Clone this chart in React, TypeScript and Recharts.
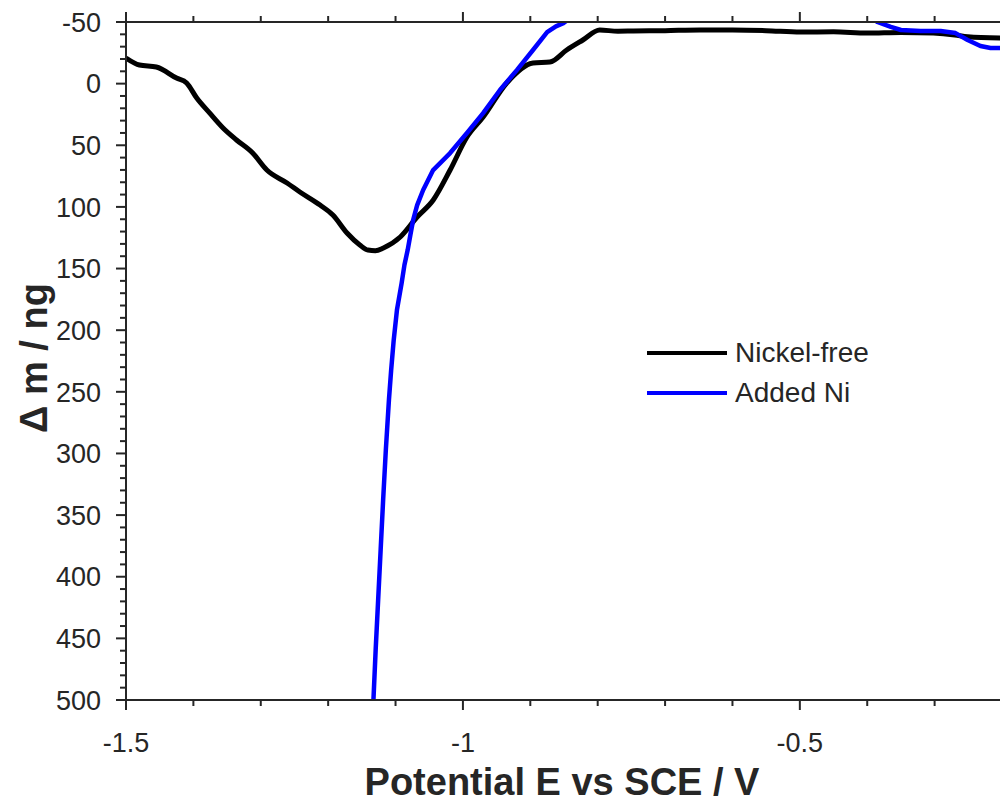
import { LineChart, Line, XAxis, YAxis, Legend } from 'recharts';

// Nickel-free trace: potential (V vs SCE) and mass change (ng)
const NICKEL_FREE_E = [
  -1.5, -1.48, -1.455, -1.425, -1.41, -1.395, -1.376, -1.356, -1.336, -1.312, -1.291, -1.261,
  -1.242, -1.212, -1.193, -1.172, -1.153, -1.141, -1.13, -1.118, -1.093, -1.068, -1.044, -1.019,
  -0.994, -0.97, -0.935, -0.896, -0.871, -0.846, -0.822, -0.797, -0.77, -0.747, -0.7, -0.648,
  -0.6, -0.55, -0.499, -0.45, -0.4, -0.35, -0.302, -0.27, -0.251, -0.202,
];
const NICKEL_FREE_DM = [
  -20.8, -15.1, -13.5, -4.5, -0.5, 11.7, 23.8, 36, 45.7, 56.3, 70.1, 80.6,
  87.9, 98.5, 106.6, 121.2, 130.9, 135, 135.5, 133.3, 124.4, 108.2, 94.4, 70.1,
  43.3, 27.1, -0.5, -16.7, -17.5, -27.3, -35.4, -43.5, -42.5, -42.7, -43, -43.5,
  -43.5, -43, -41.8, -42, -41, -41.5, -41, -39.5, -38, -37,
];

// Added Ni trace (leaves the frame at the top between about -0.85 V and -0.39 V)
const ADDED_NI_E = [
  -1.1328, -1.1295, -1.1258, -1.1221, -1.1184, -1.1144, -1.1098, -1.1065, -1.1027, -1.0979,
  -1.0909, -1.0868, -1.082, -1.078, -1.0739, -1.0679, -1.059, -1.0516, -1.0442,
  -1.019, -0.994, -0.97, -0.945, -0.92, -0.896, -0.875, -0.862, -0.851, -0.845,
  -0.6,
  -0.392, -0.385, -0.365, -0.35, -0.321, -0.291, -0.269, -0.251, -0.232, -0.217, -0.202,
];
const ADDED_NI_DM: (number | null)[] = [
  500, 459.4, 418.8, 378.3, 337.7, 297.2, 256.6, 232.3, 207.9, 183.6,
  161.7, 147.1, 135, 122.8, 110.6, 98.5, 86.3, 78.2, 70.1,
  56.3, 40.1, 23.9, 5.2, -11, -27.3, -41.8, -46.5, -49.1, -51.5,
  null,
  -53, -50, -46, -43.5, -42.7, -42.7, -41, -35.4, -30.5, -28.9, -28.9,
];

const X_TICKS = [-1.5, -1.4, -1.3, -1.2, -1.1, -1, -0.9, -0.8, -0.7, -0.6, -0.5, -0.4, -0.3, -0.2];
const X_MAJOR = [-1.5, -1, -0.5];
const Y_MAJOR = [-50, 0, 50, 100, 150, 200, 250, 300, 350, 400, 450, 500];
const Y_TICKS = Array.from({ length: 56 }, (_, i) => -50 + i * 10);

const SERIES = [
  { name: 'Nickel-free', color: '#000000' },
  { name: 'Added Ni', color: '#0000ff' },
];

const nickelFree = NICKEL_FREE_E.map((e, i) => ({ e, dm: NICKEL_FREE_DM[i] }));
const addedNi = ADDED_NI_E.map((e, i) => ({ e, dm: ADDED_NI_DM[i] }));

const AXIS = '#262626';
const FONT = '"Liberation Sans", Arial, Helvetica, sans-serif';

const isMajor = (list: number[], v: number) => list.some((m) => Math.abs(m - v) < 1e-6);

function BottomTick({ x, y, payload }: any) {
  const major = isMajor(X_MAJOR, payload.value);
  return (
    <g>
      <line x1={x} x2={x} y1={y} y2={y + (major ? 10 : 6)} stroke={AXIS} strokeWidth={2} />
      {major && (
        <text x={x} y={y + 52} textAnchor="middle" fontSize={27} fontFamily={FONT} fill={AXIS}>
          {String(payload.value)}
        </text>
      )}
    </g>
  );
}

function TopTick({ x, y, payload }: any) {
  const major = isMajor(X_MAJOR, payload.value);
  return <line x1={x} x2={x} y1={y} y2={y - (major ? 10 : 6)} stroke={AXIS} strokeWidth={2} />;
}

function LeftTick({ x, y, payload }: any) {
  const major = isMajor(Y_MAJOR, payload.value);
  return (
    <g>
      <line x1={x} x2={x - (major ? 10 : 6)} y1={y} y2={y} stroke={AXIS} strokeWidth={2} />
      {major && (
        <text x={x - 25} y={y} dy="0.36em" textAnchor="end" fontSize={27} fontFamily={FONT} fill={AXIS}>
          {String(payload.value)}
        </text>
      )}
    </g>
  );
}

function LegendBox() {
  return (
    <div style={{ fontFamily: FONT, fontSize: 28, color: AXIS }}>
      {SERIES.map((s) => (
        <div key={s.name} style={{ display: 'flex', alignItems: 'center', height: 40 }}>
          <div style={{ width: 80, height: 4, background: s.color, marginRight: 8 }} />
          <span>{s.name}</span>
        </div>
      ))}
    </div>
  );
}

export default function App() {
  return (
    <div style={{ position: 'absolute', left: 0, top: 0, width: 1000, height: 802, overflow: 'hidden', background: '#fff' }}>
      <LineChart width={1010} height={802} margin={{ top: 10, right: 8, bottom: 0, left: 0 }}>
        <XAxis
          xAxisId="bottom"
          dataKey="e"
          type="number"
          domain={[-1.5, -0.2]}
          ticks={X_TICKS}
          interval={0}
          height={102}
          allowDataOverflow
          axisLine={{ stroke: AXIS, strokeWidth: 2 }}
          tickLine={false}
          tickSize={0}
          tickMargin={0}
          tick={<BottomTick />}
          label={() => (
            <text x={562} y={795} textAnchor="middle" fontSize={38} fontWeight="bold" fontFamily={FONT} fill={AXIS}>
              Potential E vs SCE / V
            </text>
          )}
        />
        <XAxis
          xAxisId="top"
          orientation="top"
          dataKey="e"
          type="number"
          domain={[-1.5, -0.2]}
          ticks={X_TICKS}
          interval={0}
          height={12}
          allowDataOverflow
          axisLine={{ stroke: AXIS, strokeWidth: 2 }}
          tickLine={false}
          tickSize={0}
          tickMargin={0}
          tick={<TopTick />}
        />
        <YAxis
          dataKey="dm"
          type="number"
          reversed
          domain={[-50, 500]}
          ticks={Y_TICKS}
          interval={0}
          width={126}
          allowDataOverflow
          axisLine={{ stroke: AXIS, strokeWidth: 2 }}
          tickLine={false}
          tickSize={0}
          tickMargin={0}
          tick={<LeftTick />}
          label={() => (
            <text
              x={47}
              y={358}
              transform="rotate(-90 47 358)"
              textAnchor="middle"
              fontSize={38}
              fontWeight="bold"
              fontFamily={FONT}
              fill={AXIS}
            >
              Δ m / ng
            </text>
          )}
        />
        <Legend
          layout="vertical"
          align="center"
          verticalAlign="middle"
          content={() => <LegendBox />}
          wrapperStyle={{ left: 647, top: 333, width: 260 }}
        />
        <Line
          xAxisId="bottom"
          data={nickelFree}
          dataKey="dm"
          name={SERIES[0].name}
          type="monotone"
          stroke={SERIES[0].color}
          strokeWidth={5}
          strokeLinejoin="round"
          dot={false}
          isAnimationActive={false}
        />
        <Line
          xAxisId="bottom"
          data={addedNi}
          dataKey="dm"
          name={SERIES[1].name}
          type="linear"
          stroke={SERIES[1].color}
          strokeWidth={4.5}
          strokeLinejoin="round"
          dot={false}
          isAnimationActive={false}
        />
      </LineChart>
    </div>
  );
}
